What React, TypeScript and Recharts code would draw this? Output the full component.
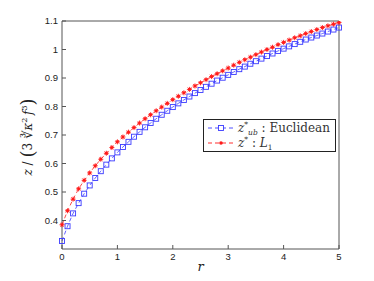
import React from "react";
import { LineChart, Line, XAxis, YAxis } from "recharts";

// r from 0 to 5, step 0.1
const rValues = [
  0, 0.1, 0.2, 0.3, 0.4, 0.5, 0.6, 0.7, 0.8, 0.9,
  1, 1.1, 1.2, 1.3, 1.4, 1.5, 1.6, 1.7, 1.8, 1.9,
  2, 2.1, 2.2, 2.3, 2.4, 2.5, 2.6, 2.7, 2.8, 2.9,
  3, 3.1, 3.2, 3.3, 3.4, 3.5, 3.6, 3.7, 3.8, 3.9,
  4, 4.1, 4.2, 4.3, 4.4, 4.5, 4.6, 4.7, 4.8, 4.9,
  5,
];

// z*_ub : Euclidean
const euclidean = [
  0.328, 0.38, 0.425, 0.461, 0.494, 0.523, 0.549, 0.573, 0.596, 0.618,
  0.639, 0.658, 0.676, 0.694, 0.711, 0.727, 0.742, 0.757, 0.771, 0.785,
  0.798, 0.811, 0.823, 0.835, 0.847, 0.858, 0.869, 0.88, 0.891, 0.901,
  0.911, 0.921, 0.931, 0.94, 0.95, 0.959, 0.968, 0.977, 0.986, 0.995,
  1.003, 1.011, 1.019, 1.027, 1.035, 1.042, 1.049, 1.056, 1.063, 1.07,
  1.077,
];

// z* : L1
const l1 = [
  0.385, 0.434, 0.475, 0.511, 0.541, 0.567, 0.592, 0.615, 0.636, 0.656,
  0.676, 0.693, 0.71, 0.726, 0.742, 0.757, 0.771, 0.785, 0.798, 0.811,
  0.824, 0.836, 0.848, 0.86, 0.872, 0.883, 0.894, 0.905, 0.915, 0.925,
  0.935, 0.945, 0.955, 0.964, 0.973, 0.982, 0.991, 1.0, 1.008, 1.017,
  1.025, 1.033, 1.041, 1.048, 1.056, 1.063, 1.07, 1.077, 1.083, 1.089,
  1.095,
];

const xTicks = [0, 1, 2, 3, 4, 5];
const yTicks = [0.4, 0.5, 0.6, 0.7, 0.8, 0.9, 1, 1.1];

const BLUE = "#3a3aff";
const RED = "#ff1a1a";
const AXIS = "#555555";
const SERIF = "'DejaVu Serif', 'Liberation Serif', serif";
const SANS = "'Liberation Sans', Arial, sans-serif";

const data = rValues.map((r, i) => ({ r, euc: euclidean[i], l1: l1[i] }));

const SquareDot = (props: any) => {
  const { cx, cy, index } = props;
  if (cx == null || cy == null) return null;
  return (
    <rect
      key={`sq-${index}`}
      x={cx - 2.5}
      y={cy - 2.5}
      width={5}
      height={5}
      fill="none"
      stroke={BLUE}
      strokeWidth={0.9}
    />
  );
};

const StarDot = (props: any) => {
  const { cx, cy, index } = props;
  if (cx == null || cy == null) return null;
  return (
    <g key={`st-${index}`} stroke={RED} strokeWidth={0.9}>
      <line x1={cx - 2.5} y1={cy} x2={cx + 2.5} y2={cy} />
      <line x1={cx} y1={cy - 2.5} x2={cx} y2={cy + 2.5} />
      <line x1={cx - 1.8} y1={cy - 1.8} x2={cx + 1.8} y2={cy + 1.8} />
      <line x1={cx - 1.8} y1={cy + 1.8} x2={cx + 1.8} y2={cy - 1.8} />
      <circle cx={cx} cy={cy} r={1.4} fill={RED} stroke="none" />
    </g>
  );
};

// y axis label: z / ( 3 cbrt(kappa^2 f^3) )
const YLabel = () => (
  <text
    transform="translate(32,137) rotate(-90)"
    textAnchor="middle"
    fontFamily={SERIF}
    fontSize={12}
    fill="#222"
  >
    <tspan fontStyle="italic">z</tspan>
    <tspan> / </tspan>
    <tspan fontSize={18} dy={2}>(</tspan>
    <tspan dy={-2}>3</tspan>
    <tspan fontSize={13}> ∛</tspan>
    <tspan fontStyle="italic">κ</tspan>
    <tspan fontSize={8} dy={-5}>2 </tspan>
    <tspan fontStyle="italic" dy={5}>f</tspan>
    <tspan fontSize={8} dy={-5}>3</tspan>
    <tspan fontSize={18} dy={7}>)</tspan>
  </text>
);

const XLabel = (props: any) => {
  const { viewBox } = props;
  return (
    <text
      x={viewBox.x + viewBox.width / 2}
      y={viewBox.y + 22}
      textAnchor="middle"
      fontFamily={SERIF}
      fontStyle="italic"
      fontSize={13}
      fill="#222"
    >
      r
    </text>
  );
};

const LegendBox = () => (
  <svg
    width={134}
    height={34}
    style={{ position: "absolute", left: 203, top: 119 }}
    fontFamily={SERIF}
  >
    <rect x={0.5} y={0.5} width={132} height={32} fill="#fff" stroke="#222" strokeWidth={1} />
    <line x1={5} y1={9} x2={30} y2={9} stroke={BLUE} strokeWidth={0.9} strokeDasharray="4 3" />
    <rect x={15.5} y={6.5} width={5} height={5} fill="#fff" stroke={BLUE} strokeWidth={0.9} />
    <line x1={5} y1={24} x2={30} y2={24} stroke={RED} strokeWidth={0.9} strokeDasharray="4 3" />
    <circle cx={18} cy={24} r={1.8} fill={RED} />
    <text x={35} y={13} fontSize={12} fill="#333">
      <tspan fontStyle="italic">z</tspan>
      <tspan fontSize={7.5} dy={-5}>*</tspan>
      <tspan fontSize={7.5} fontStyle="italic" dy={8}>ub</tspan>
      <tspan dy={-3}> : Euclidean</tspan>
    </text>
    <text x={35} y={28} fontSize={12} fill="#333">
      <tspan fontStyle="italic">z</tspan>
      <tspan fontSize={7.5} dy={-5}>*</tspan>
      <tspan dy={5}> : </tspan>
      <tspan fontStyle="italic">L</tspan>
      <tspan fontSize={7.5} dy={3}>1</tspan>
    </text>
  </svg>
);

const tickStyle = { fontSize: 9.5, fill: "#222", fontFamily: SANS };

export default function App() {
  return (
    <div style={{ position: "absolute", left: 0, top: 0, width: 374, height: 281, background: "#fff" }}>
      <LineChart
        width={374}
        height={281}
        data={data}
        margin={{ top: 16, right: 30, bottom: 12, left: 22 }}
      >
        <XAxis
          dataKey="r"
          type="number"
          domain={[0, 5]}
          ticks={xTicks}
          height={20}
          tickSize={-4}
          tickMargin={8}
          tick={tickStyle}
          stroke={AXIS}
          label={<XLabel />}
        />
        <XAxis
          xAxisId="top"
          dataKey="r"
          orientation="top"
          type="number"
          domain={[0, 5]}
          ticks={xTicks}
          height={5}
          tickSize={-4}
          tick={false}
          stroke={AXIS}
        />
        <YAxis
          type="number"
          domain={[0.3, 1.1]}
          ticks={yTicks}
          width={40}
          tickSize={-4}
          tickMargin={8}
          tick={tickStyle}
          stroke={AXIS}
          allowDataOverflow
          label={<YLabel />}
        />
        <YAxis
          yAxisId="right"
          orientation="right"
          type="number"
          domain={[0.3, 1.1]}
          ticks={yTicks}
          width={5}
          tickSize={-4}
          tick={false}
          stroke={AXIS}
        />
        <Line
          name="Euclidean"
          dataKey="euc"
          stroke={BLUE}
          strokeWidth={0.8}
          strokeDasharray="4 3"
          dot={SquareDot}
          activeDot={false}
          isAnimationActive={false}
        />
        <Line
          name="L1"
          dataKey="l1"
          stroke={RED}
          strokeWidth={0.8}
          strokeDasharray="4 3"
          dot={StarDot}
          activeDot={false}
          isAnimationActive={false}
        />
      </LineChart>
      <LegendBox />
    </div>
  );
}
